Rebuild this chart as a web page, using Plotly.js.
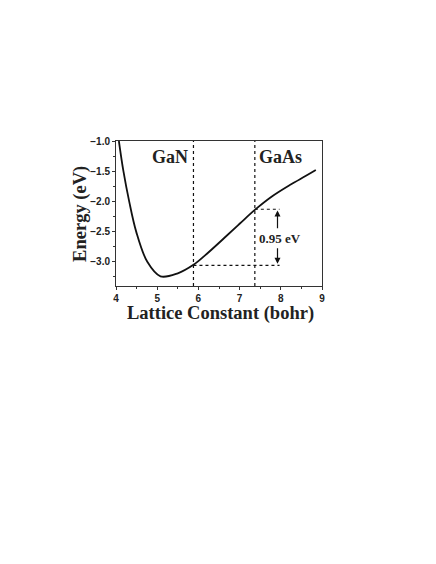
<!DOCTYPE html>
<html>
<head>
<meta charset="utf-8">
<script src="https://cdn.plot.ly/plotly-3.0.1.min.js"></script>
<style>
  body { margin: 0; background: #fff; }
  #chart { width: 436px; height: 564px; }
</style>
</head>
<body>
<div id="chart"></div>
<script>
//energy curve
var latticeConst = [4.07, 4.18, 4.32, 4.49, 4.76, 5.08, 5.5, 5.88, 6.2, 6.62, 7.0, 7.37, 7.8, 8.24, 8.6, 8.85];
var energy = [-1.0, -1.5, -2.0, -2.5, -3.0, -3.24, -3.19, -3.05, -2.87, -2.61, -2.37, -2.14, -1.91, -1.72, -1.58, -1.48];

//marked lattice constants and energy levels
var markNames = ['GaN', 'GaAs'];
var markX = [5.88, 7.37];
var levelLow = -3.06;
var levelHigh = -2.13;
var arrowX = 7.92;
var gapText = '0.95 eV';
var xTitle = 'Lattice Constant (bohr)';
var yTitle = 'Energy (eV)';

var curve = {
    x: latticeConst,
    y: energy,
    type: 'scatter',
    mode: 'lines',
    line: { color: '#111', width: 1.8, shape: 'spline', smoothing: 1 },
    hoverinfo: 'skip'
};

var vGaN = {
    x: [markX[0], markX[0]], y: [-3.4, -1.0],
    type: 'scatter', mode: 'lines',
    line: { color: '#111', width: 1.2, dash: 'dot' }
};
var vGaAs = {
    x: [markX[1], markX[1]], y: [-3.4, -1.0],
    type: 'scatter', mode: 'lines',
    line: { color: '#111', width: 1.2, dash: 'dot' }
};
var hLow = {
    x: [markX[0], arrowX + 0.05], y: [levelLow, levelLow],
    type: 'scatter', mode: 'lines',
    line: { color: '#111', width: 1.2, dash: 'dot' }
};
var hHigh = {
    x: [markX[1], arrowX + 0.05], y: [levelHigh, levelHigh],
    type: 'scatter', mode: 'lines',
    line: { color: '#111', width: 1.2, dash: 'dot' }
};

var serif = 'Liberation Serif, Times New Roman, serif';
var sans = 'Liberation Sans, Arial, sans-serif';

var layout = {
    width: 436,
    height: 564,
    margin: { l: 116, r: 114, t: 141, b: 278 },
    paper_bgcolor: '#fff',
    plot_bgcolor: '#fff',
    showlegend: false,
    xaxis: {
        range: [4, 9],
        dtick: 1,
        ticks: 'outside',
        ticklen: 3,
        tickwidth: 1,
        tickcolor: '#333',
        minor: { dtick: 0.5, ticks: 'outside', ticklen: 2, tickcolor: '#333' },
        showgrid: false,
        zeroline: false,
        showline: true,
        linecolor: '#333',
        linewidth: 1,
        mirror: true,
        tickfont: { family: sans, size: 10, color: '#222', weight: 'bold' },
        fixedrange: true
    },
    yaxis: {
        range: [-3.4, -1.0],
        dtick: 0.5,
        tickformat: '.1f',
        ticks: 'outside',
        ticklen: 3,
        tickwidth: 1,
        tickcolor: '#333',
        minor: { dtick: 0.25, ticks: 'outside', ticklen: 2, tickcolor: '#333' },
        showgrid: false,
        zeroline: false,
        showline: true,
        linecolor: '#333',
        linewidth: 1,
        mirror: true,
        tickfont: { family: sans, size: 10, color: '#222', weight: 'bold' },
        fixedrange: true
    },
    annotations: [
        //axis titles placed by hand
        { xref: 'paper', yref: 'paper', x: 0.505, y: -0.19, xanchor: 'center', yanchor: 'middle',
          text: '<b>' + xTitle + '</b>',
          showarrow: false, font: { family: serif, size: 18.5, color: '#222' } },
        { xref: 'paper', yref: 'paper', x: -0.17, y: 0.497, xanchor: 'center', yanchor: 'middle',
          text: '<b>' + yTitle + '</b>',
          textangle: -90, showarrow: false, font: { family: serif, size: 18.5, color: '#222' } },
        { x: 5.32, y: -1.26, text: '<b>' + markNames[0] + '</b>', showarrow: false,
          font: { family: serif, size: 18, color: '#222' } },
        { x: 8.0, y: -1.26, text: '<b>' + markNames[1] + '</b>', showarrow: false,
          font: { family: serif, size: 18, color: '#222' } },
        { x: arrowX + 0.05, y: -2.62, text: '<b>' + gapText + '</b>', showarrow: false,
          font: { family: serif, size: 13, color: '#222' } },
        //up arrow
        { x: arrowX, y: levelHigh - 0.02, ax: arrowX, ay: -2.47, axref: 'x', ayref: 'y',
          text: '', showarrow: true, arrowhead: 2, arrowsize: 1, arrowwidth: 1.2, arrowcolor: '#111' },
        //down arrow
        { x: arrowX, y: levelLow + 0.03, ax: arrowX, ay: -2.75, axref: 'x', ayref: 'y',
          text: '', showarrow: true, arrowhead: 2, arrowsize: 1, arrowwidth: 1.2, arrowcolor: '#111' }
    ]
};

var data = [vGaN, vGaAs, hLow, hHigh, curve];
Plotly.newPlot('chart', data, layout, { displayModeBar: false, staticPlot: true });
</script>
</body>
</html>
